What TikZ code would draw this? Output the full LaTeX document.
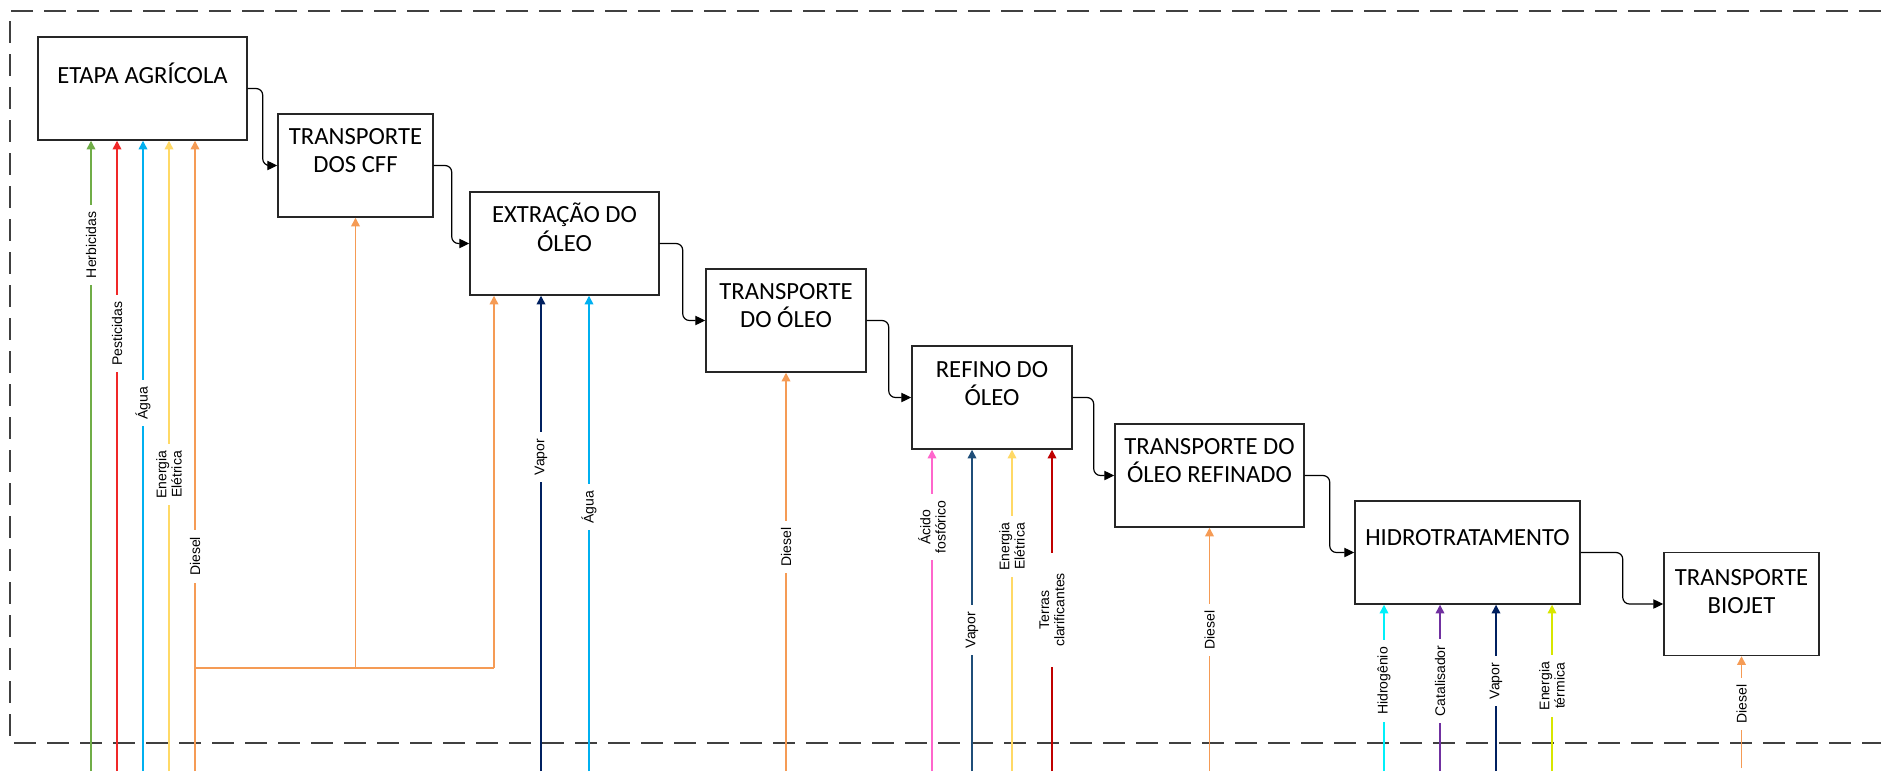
\documentclass[tikz,border=0pt]{standalone}
\usepackage{fontspec}
\setmainfont{Liberation Sans}
\newfontfamily\boxfont{Carlito}
\usetikzlibrary{arrows.meta}
\definecolor{boxc}{RGB}{38,38,38}
\definecolor{framec}{RGB}{64,64,64}
\definecolor{cGreen}{RGB}{112,173,71}
\definecolor{cRed}{RGB}{240,40,40}
\definecolor{cBlue}{RGB}{0,176,240}
\definecolor{cYellow}{RGB}{255,217,102}
\definecolor{cOrange}{RGB}{245,155,85}
\definecolor{cNavy}{RGB}{0,32,96}
\definecolor{cBlueTwo}{RGB}{31,78,121}
\definecolor{cPink}{RGB}{255,102,204}
\definecolor{cDarkRed}{RGB}{192,0,0}
\definecolor{cCyan}{RGB}{0,240,250}
\definecolor{cPurple}{RGB}{112,48,160}
\definecolor{cLime}{RGB}{215,230,0}
\newcommand\bxstrut{\rule[-5pt]{0pt}{20pt}}
\tikzset{
  procbox/.style 2 args={draw=boxc, line width=1.1pt, fill=white, inner sep=0pt,
    minimum width=#1*0.75pt, minimum height=#2*0.75pt},
  btxt/.style={font=\boxfont\fontsize{18.5pt}{19.5pt}\selectfont, align=center, inner sep=0pt, text=black},
  conn/.style={draw=black, line width=0.9pt, rounded corners=5pt, -{Triangle[length=7.5pt,width=7pt]}},
  inflow/.style={draw=#1, line width=1.1pt, -{Triangle[length=6.5pt,width=6.5pt]}},
  flow/.style={draw=#1, line width=1.1pt},
  lab/.style={font=\fontsize{10.5pt}{11.5pt}\selectfont, fill=white, rotate=90, align=center,
    inner xsep=5pt, inner ysep=0.5pt, text=black},
  outerframe/.style={draw=framec, line width=1.8pt, dash pattern=on 16.5pt off 8.25pt}
}
\begin{document}
\begin{tikzpicture}[x=0.75pt,y=-0.75pt]
\useasboundingbox (0,0) rectangle (1881,771);
% frame
\coordinate (fTR) at (1881,11);
\coordinate (fTL) at (10,11);
\coordinate (fBL) at (10,743);
\coordinate (fBR) at (1881,743);
\draw[outerframe] (fTR) -- (fTL) -- (fBL) -- (fBR);

% boxes
\node[procbox={209}{103}] (etapa) at (142.5,88.5) {};
\node[procbox={155}{103}] (cff) at (355.5,165.5) {};
\node[procbox={189}{103}] (extr) at (564.5,243.5) {};
\node[procbox={160}{103}] (toleo) at (786,320.5) {};
\node[procbox={160}{103}] (refino) at (992,397.5) {};
\node[procbox={189}{103}] (refinado) at (1209.5,475.5) {};
\node[procbox={225}{103}] (hidro) at (1467.5,552.5) {};
\node[procbox={155}{103}] (biojet) at (1741.5,604) {};

% box texts
\node[btxt] (tEtapa) at (142.5,76.5) {\bxstrut ETAPA AGRÍCOLA};
\node[btxt] (tCff) at (355.5,152) {\bxstrut TRANSPORTE\\\bxstrut DOS CFF};
\node[btxt] (tExtr) at (564.5,230.5) {\bxstrut EXTRAÇÃO DO\\\bxstrut ÓLEO};
\node[btxt] (tToleo) at (786,307) {\bxstrut TRANSPORTE\\\bxstrut DO ÓLEO};
\node[btxt] (tRefino) at (992,385) {\bxstrut REFINO DO\\\bxstrut ÓLEO};
\node[btxt] (tRefinado) at (1209.5,462) {\bxstrut TRANSPORTE DO\\\bxstrut ÓLEO REFINADO};
\node[btxt] (tHidro) at (1467.5,538.5) {\bxstrut HIDROTRATAMENTO};
\node[btxt] (tBiojet) at (1741.5,593) {\bxstrut TRANSPORTE\\\bxstrut BIOJET};

% main connectors
\draw[conn] (etapa.east) -- ++(15,0) |- (cff.west);
\draw[conn] (cff.east) -- ++(18,0) |- (extr.west);
\draw[conn] (extr.east) -- ++(23,0) |- (toleo.west);
\draw[conn] (toleo.east) -- ++(22,0) |- (refino.west);
\draw[conn] (refino.east) -- ++(21,0) |- (refinado.west);
\draw[conn] (refinado.east) -- ++(25,0) |- (hidro.west);
\draw[conn] (hidro.east) -- ++(42,0) |- (biojet.west);

% inputs to ETAPA AGRICOLA
\coordinate (iHerb) at (91,771);
\coordinate (iPest) at (117,771);
\coordinate (iAguaA) at (143,771);
\coordinate (iEnA) at (169,771);
\coordinate (iDiesA) at (195,771);
\draw[inflow=cGreen] (iHerb) -- (iHerb |- etapa.south);
\draw[inflow=cRed] (iPest) -- (iPest |- etapa.south);
\draw[inflow=cBlue] (iAguaA) -- (iAguaA |- etapa.south);
\draw[inflow=cYellow] (iEnA) -- (iEnA |- etapa.south);
\draw[inflow=cOrange] (iDiesA) -- (iDiesA |- etapa.south);
% diesel branch
\coordinate (dj) at (195,668);
\coordinate (dx) at (494,668);
\draw[flow=cOrange] (dj) -- (dx);
\draw[inflow=cOrange] (dj -| cff.south) -- (cff.south);
\draw[inflow=cOrange] (dx) -- (dx |- extr.south);

% inputs to EXTRACAO
\coordinate (iVapE) at (541,771);
\coordinate (iAguaE) at (589,771);
\draw[inflow=cNavy] (iVapE) -- (iVapE |- extr.south);
\draw[inflow=cBlue] (iAguaE) -- (iAguaE |- extr.south);

% input to TRANSPORTE DO OLEO
\coordinate (iDiesT) at (786,771);
\draw[inflow=cOrange] (iDiesT) -- (toleo.south);

% inputs to REFINO
\coordinate (iAcido) at (932,771);
\coordinate (iVapR) at (972,771);
\coordinate (iEnR) at (1012,771);
\coordinate (iTerras) at (1052,771);
\draw[inflow=cPink] (iAcido) -- (iAcido |- refino.south);
\draw[inflow=cBlueTwo] (iVapR) -- (iVapR |- refino.south);
\draw[inflow=cYellow] (iEnR) -- (iEnR |- refino.south);
\draw[inflow=cDarkRed] (iTerras) -- (iTerras |- refino.south);

% input to TRANSPORTE REFINADO
\coordinate (iDiesR) at (1209.5,771);
\draw[inflow=cOrange] (iDiesR) -- (refinado.south);

% inputs to HIDROTRATAMENTO
\coordinate (iHidr) at (1384,771);
\coordinate (iCat) at (1440,771);
\coordinate (iVapH) at (1496,771);
\coordinate (iTerm) at (1552,771);
\draw[inflow=cCyan] (iHidr) -- (iHidr |- hidro.south);
\draw[inflow=cPurple] (iCat) -- (iCat |- hidro.south);
\draw[inflow=cNavy] (iVapH) -- (iVapH |- hidro.south);
\draw[inflow=cLime] (iTerm) -- (iTerm |- hidro.south);

% input to TRANSPORTE BIOJET
\coordinate (iDiesB) at (1741.5,768);
\draw[inflow=cOrange] (iDiesB) -- (biojet.south);

% labels
\node[lab] (lHerb) at (91,245) {Herbicidas};
\node[lab] (lPest) at (117,333.5) {Pesticidas};
\node[lab] (lAguaA) at (143,403) {Água};
\node[lab] (lEnA) at (169,474.5) {Energia\\Elétrica};
\node[lab] (lDiesA) at (195,556.5) {Diesel};
\node[lab] (lVapE) at (541,457) {Vapor};
\node[lab] (lAguaE) at (589,507) {Água};
\node[lab] (lDiesT) at (786,547) {Diesel};
\node[lab] (lAcido) at (932,527) {Ácido\\fosfórico};
\node[lab] (lVapR) at (972,630) {Vapor};
\node[lab] (lEnR) at (1012,546.5) {Energia\\Elétrica};
\node[lab, inner xsep=15pt] (lTerras) at (1052,610) {Terras\\clarificantes};
\node[lab] (lDiesR) at (1209.5,630) {Diesel};
\node[lab] (lHidr) at (1384,681) {Hidrogênio};
\node[lab] (lCat) at (1440,681) {Catalisador};
\node[lab] (lVapH) at (1496,681) {Vapor};
\node[lab] (lTerm) at (1552,686) {Energia\\térmica};
\node[lab] (lDiesB) at (1741.5,704) {Diesel};
\end{tikzpicture}
\end{document}
